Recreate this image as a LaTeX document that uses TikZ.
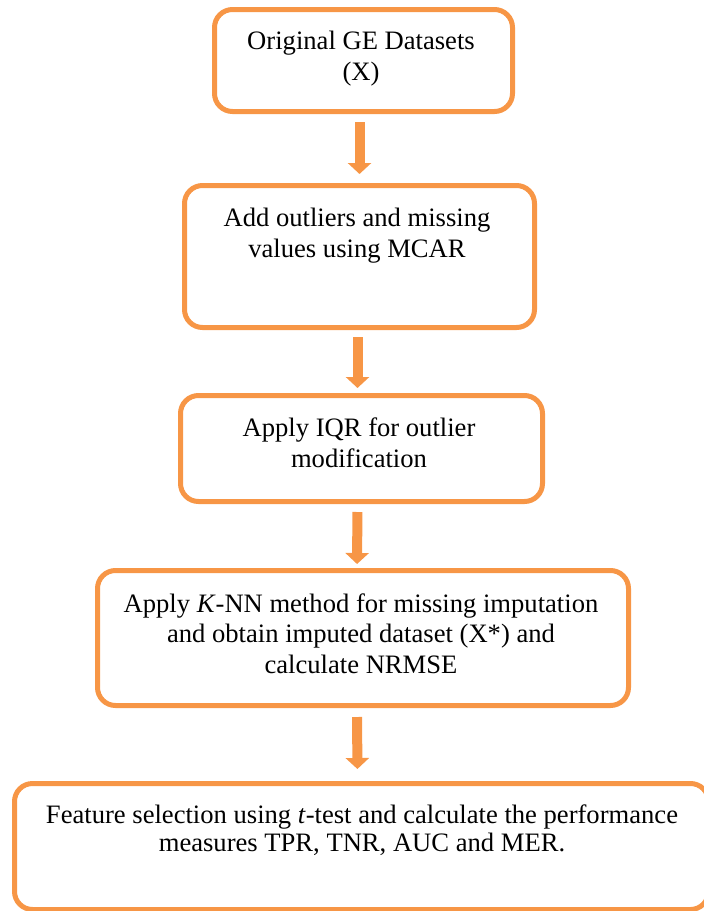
\documentclass[tikz,border=0pt]{standalone}
\usepackage{fontspec}
\setmainfont{Liberation Serif}
\usetikzlibrary{arrows.meta}
\definecolor{orng}{HTML}{F79646}
\begin{document}
\begin{tikzpicture}[x=0.5pt,y=-0.5pt,
  stepbox/.style={draw=orng, line width=2.5pt, rounded corners=9pt, inner sep=0pt, anchor=north west},
  steptext/.style={align=center, inner sep=0pt, anchor=north},
  flowarrow/.style={draw=orng, line width=5pt, -{Triangle[length=5.5pt,width=11.5pt]}}]
\useasboundingbox (0,0) rectangle (703,911);
% boxes
\node[stepbox, minimum width=149pt, minimum height=51pt] (b1) at (212,7) {};
\node[stepbox, minimum width=175pt, minimum height=71pt] (b2) at (182,183) {};
\node[stepbox, minimum width=181pt, minimum height=53pt] (b3) at (178,393) {};
\node[stepbox, minimum width=265.5pt, minimum height=67.5pt] (b4) at (95,568) {};
\node[stepbox, minimum width=347pt, minimum height=63pt] (b5) at (12,781) {};
% texts
\node[steptext, font=\fontsize{13.3}{15.5}\selectfont] (t1) at (361,31) {Original GE Datasets\\(X)};
\node[steptext, font=\fontsize{13.3}{15.5}\selectfont] (t2) at (357,208) {Add outliers and missing\\values using MCAR};
\node[steptext, font=\fontsize{13.3}{15.5}\selectfont] (t3) at (359,417) {Apply IQR for outlier\\modification};
\node[steptext, font=\fontsize{13.3}{15.25}\selectfont] (t4) at (361,593) {Apply \textit{K}-NN method for missing imputation\\and obtain imputed dataset (X*) and\\calculate NRMSE};
\node[steptext, font=\fontsize{13.3}{14}\selectfont] (t5) at (362,804) {Feature selection using \textit{t}-test and calculate the performance\\measures TPR, TNR, AUC and MER.};
% arrows
\draw[flowarrow, shorten <=4pt, shorten >=4.5pt] ([xshift=-2pt]b1.south) -- (b2.north);
\draw[flowarrow, shorten <=3.5pt, shorten >=2.5pt] ([xshift=-1pt]b2.south) -- ([xshift=-2pt]b3.north);
\draw[flowarrow, shorten <=4pt, shorten >=2pt] ([xshift=-2pt]b3.south) -- ([xshift=-3pt]b4.north);
\draw[flowarrow, shorten <=4.5pt, shorten >=6pt] ([xshift=-3pt]b4.south) -- ([xshift=-2pt]b5.north);
\end{tikzpicture}
\end{document}
